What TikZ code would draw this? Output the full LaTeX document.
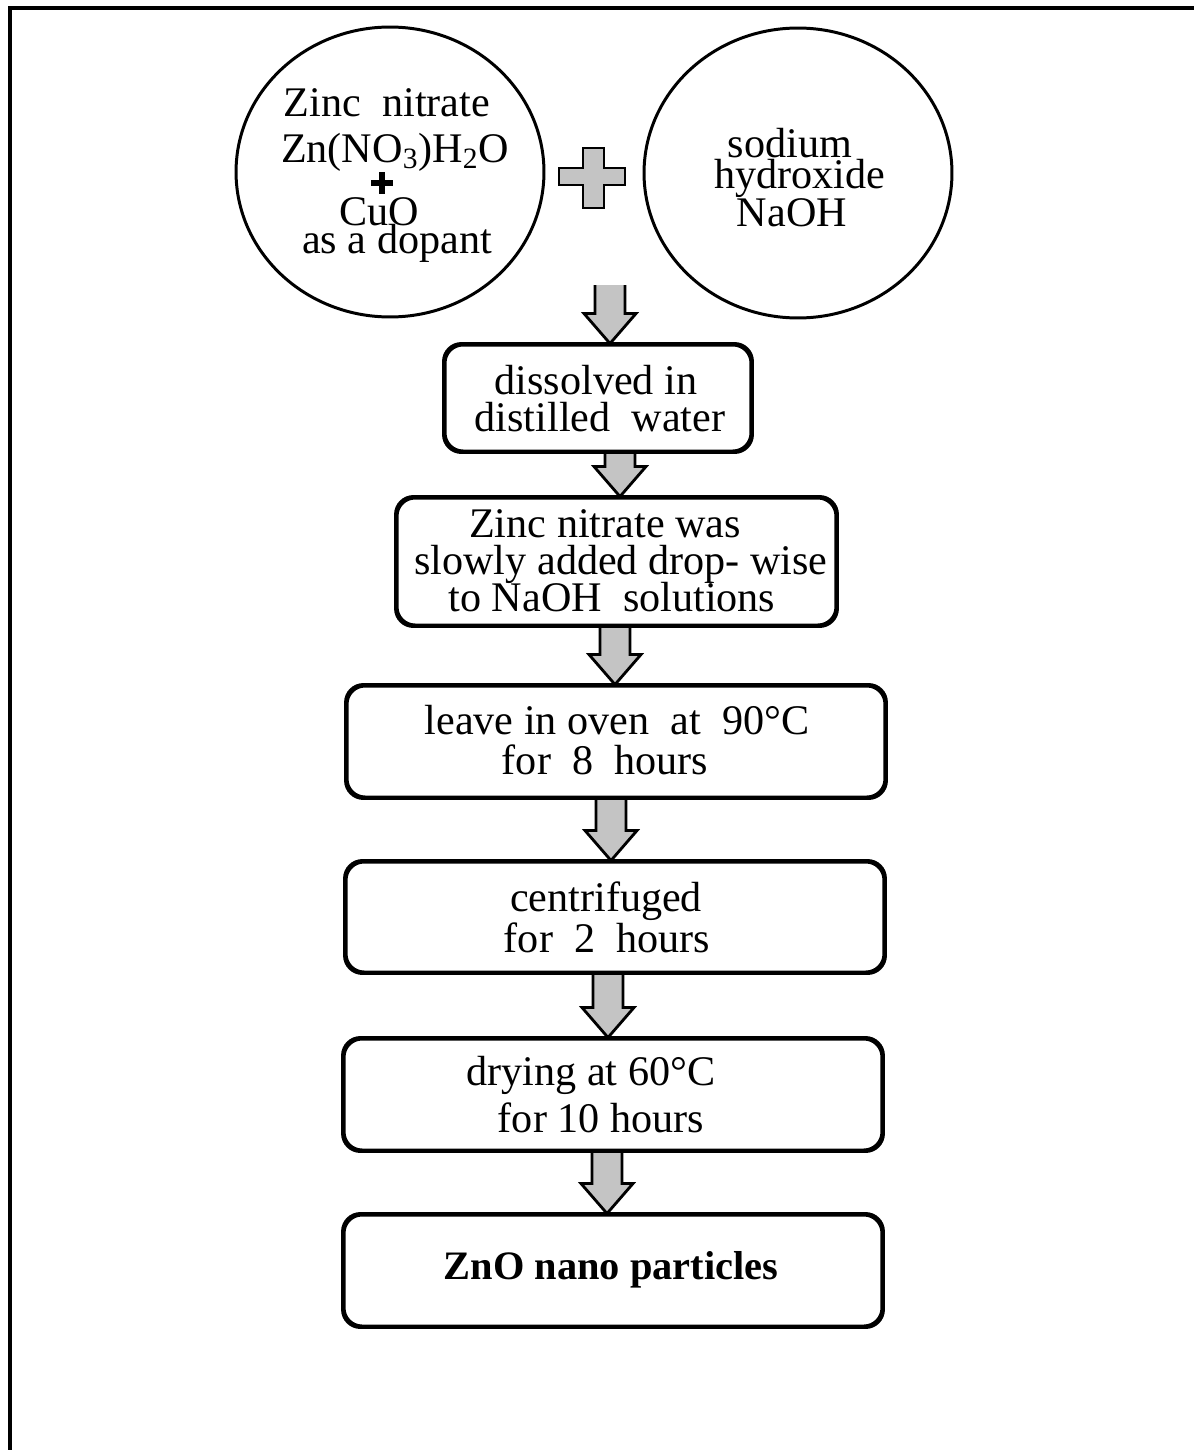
\documentclass[tikz,border=0pt]{standalone}
\usepackage{fontspec}
\setmainfont{Liberation Serif}
\usetikzlibrary{calc,shapes.geometric}
\definecolor{arrowgray}{RGB}{196,196,196}
\newcommand\blockarrow[3]{%
  \coordinate (bs) at (#2 -| #1);
  \coordinate (be) at (#3 -| #1);
  \filldraw[barrow] ($(bs)+(-15,0)$) -- ($(be)+(-15,-30)$) -- ($(be)+(-26,-30)$) -- (be)
     -- ($(be)+(26,-30)$) -- ($(be)+(15,-30)$) -- ($(bs)+(15,0)$);}
\begin{document}
\begin{tikzpicture}[x=0.02cm,y=-0.02cm,
  every node/.style={font=\fontsize{24}{28}\selectfont},
  txt/.style={anchor=base,inner sep=0pt},
  stepbox/.style={draw,line width=1.7pt,rounded corners=0.36cm,inner sep=0pt,minimum width=10.76cm,minimum height=2.22cm},
  blob/.style={draw,ellipse,line width=1.7pt,inner sep=0pt,minimum width=6.16cm,minimum height=5.8cm},
  barrow/.style={fill=arrowgray,draw=black,line width=1.6pt,line join=miter},
  smallplus/.style={line width=3.2pt},
]
\useasboundingbox (0,0) rectangle (1194,1450);
% frame
\draw[line width=2.3pt] (10,1450) -- (10,8) -- (1194,8);

% reactant circles
\node[blob] (c1) at (390,172) {};
\node[blob] (c2) at (798,173) {};
\node[txt] (c1a) at (387,116) {Zinc\ \ nitrate};
\node[txt] (c1b) at (395,162) {Zn(NO\textsubscript{3})H\textsubscript{2}O};
\coordinate (c1p) at (382,183);
\draw[smallplus] ($(c1p)+(-11,0)$) -- ($(c1p)+(11,0)$);
\draw[smallplus] ($(c1p)+(0,-11)$) -- ($(c1p)+(0,11)$);
\node[txt] (c1c) at (379,225) {CuO};
\node[txt] (c1d) at (397,253) {as a dopant};
\node[txt] (c2a) at (790,157) {sodium};
\node[txt] (c2b) at (800,188) {hydroxide};
\node[txt] (c2c) at (792,226) {NaOH};

% big plus
\filldraw[barrow] (583,148) -- (604,148) -- (604,168) -- (625,168) -- (625,185) -- (604,185)
  -- (604,208) -- (583,208) -- (583,185) -- (559,185) -- (559,168) -- (583,168) -- cycle;

% step boxes
\node[stepbox,minimum width=6.12cm,minimum height=2.12cm] (b1) at (598,398) {};
\node[stepbox,minimum width=8.78cm,minimum height=2.54cm] (b2) at (616.5,561.5) {};
\node[stepbox] (b3) at (616,741.5) {};
\node[stepbox,minimum height=2.2cm] (b4) at (615,917) {};
\node[stepbox] (b5) at (613,1094.5) {};
\node[stepbox] (b6) at (613,1270.5) {};

% arrows
\coordinate (ax1) at (610,0);
\coordinate (ax2) at (620,0);
\coordinate (ax3) at (615,0);
\coordinate (ax4) at (611,0);
\coordinate (ax5) at (608,0);
\coordinate (ax6) at (607,0);
\coordinate (start) at (610,285);
\blockarrow{ax1}{start}{b1.north}
\blockarrow{ax2}{b1.south}{b2.north}
\blockarrow{ax3}{b2.south}{b3.north}
\blockarrow{ax4}{b3.south}{b4.north}
\blockarrow{ax5}{b4.south}{b5.north}
\blockarrow{ax6}{b5.south}{b6.north}

% redraw box borders over arrow ends
\foreach \b in {b1,b2,b3,b4,b5,b6} {
  \draw[line width=1.7pt,rounded corners=0.36cm] (\b.north west) rectangle (\b.south east);
}

% texts
\node[txt] (t1a) at (596,394) {dissolved in};
\node[txt] (t1b) at (600,431) {distilled\ \ water};
\node[txt] (t2a) at (605,537) {Zinc nitrate was};
\node[txt] (t2b) at (621,574) {slowly added drop- wise};
\node[txt] (t2c) at (612,611) {to NaOH\ \ solutions};
\node[txt] (t3a) at (617,734) {leave in oven\ \ at\ \ 90°C};
\node[txt] (t3b) at (605,774) {for\ \ 8\ \ hours};
\node[txt] (t4a) at (606,911) {centrifuged};
\node[txt] (t4b) at (607,952) {for\ \ 2\ \ hours};
\node[txt] (t5a) at (591,1085) {drying at 60°C};
\node[txt] (t5b) at (601,1132) {for 10 hours};
\node[txt,font=\fontsize{23}{27}\selectfont\bfseries] (t6) at (611,1279) {ZnO nano particles};
\end{tikzpicture}
\end{document}
